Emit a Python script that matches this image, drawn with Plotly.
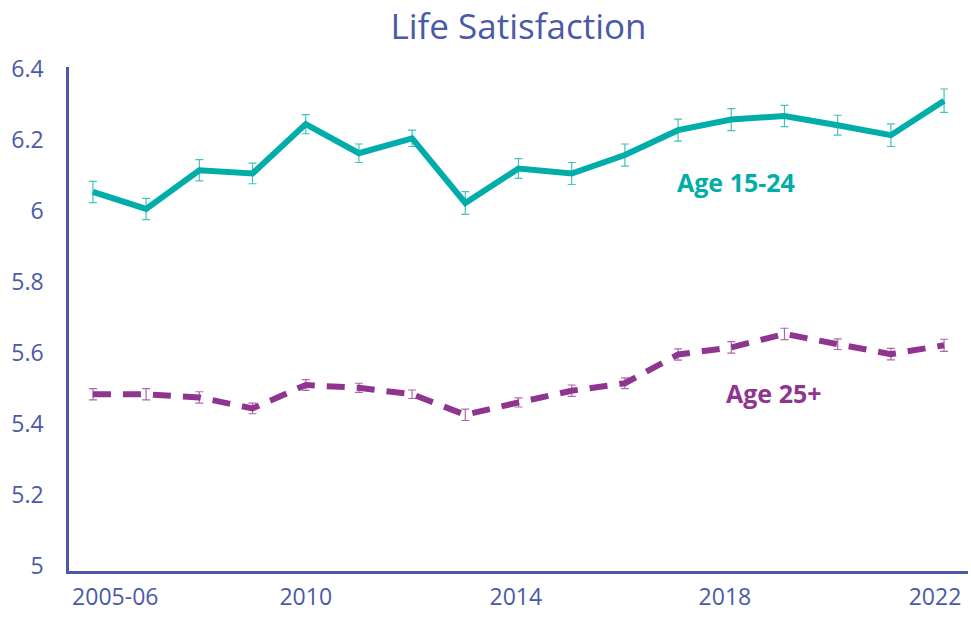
import plotly.graph_objects as go

years = list(range(2006, 2023))

# Age 15-24 (mean life satisfaction and half-width of the error bar)
young = [6.054, 6.006, 6.115, 6.106, 6.245, 6.163, 6.205, 6.023, 6.120,
         6.106, 6.158, 6.228, 6.258, 6.268, 6.242, 6.214, 6.311]
young_err = [0.030, 0.030, 0.030, 0.029, 0.027, 0.026, 0.023, 0.032, 0.028,
             0.031, 0.031, 0.031, 0.031, 0.030, 0.028, 0.032, 0.033]

# Age 25+
older = [5.484, 5.484, 5.475, 5.444, 5.510, 5.502, 5.484, 5.426, 5.461,
         5.494, 5.515, 5.596, 5.616, 5.654, 5.625, 5.597, 5.622]
older_err = [0.016, 0.016, 0.016, 0.015, 0.015, 0.013, 0.012, 0.016, 0.013,
             0.016, 0.015, 0.016, 0.016, 0.016, 0.015, 0.016, 0.017]

x_tick_text = ["2005-06", "2010", "2014", "2018", "2022"]
x_tick_pos = [2006.42, 2010, 2013.95, 2017.88, 2021.83]
y_ticks = [5, 5.2, 5.4, 5.6, 5.8, 6, 6.2, 6.4]
y_tick_text = ["5", "5.2", "5.4", "5.6", "5.8", "6", "6.2", "6.4"]

TEAL = "#00ADA8"
PURPLE = "#8F3590"
BLUE = "#4A5AA8"
FONT = "Open Sans"

fig = go.Figure()

fig.add_trace(go.Scatter(
    x=years, y=young, mode="lines", name="Age 15-24",
    line=dict(color=TEAL, width=6),
    error_y=dict(type="data", array=young_err, visible=True,
                 color="rgba(0,173,168,0.75)", thickness=1.2, width=4),
))
fig.add_trace(go.Scatter(
    x=years, y=older, mode="lines", name="Age 25+",
    line=dict(color=PURPLE, width=6, dash="18px,12px"),
    error_y=dict(type="data", array=older_err, visible=True,
                 color="rgba(143,53,144,0.75)", thickness=1.2, width=4),
))

fig.add_annotation(x=2018.09, y=6.082, text="<b>Age 15-24</b>", showarrow=False,
                   font=dict(family=FONT, size=25, color=TEAL))
fig.add_annotation(x=2018.8, y=5.487, text="<b>Age 25+</b>", showarrow=False,
                   font=dict(family=FONT, size=25, color=PURPLE))

fig.update_layout(
    width=971, height=619,
    margin=dict(l=69, r=3, t=67, b=48),
    paper_bgcolor="white", plot_bgcolor="white",
    showlegend=False,
    title=dict(text="Life Satisfaction", x=0.5, xref="paper", y=0.957,
               xanchor="center", yanchor="middle",
               font=dict(family=FONT, size=35, color=BLUE)),
    font=dict(family=FONT, color=BLUE),
    xaxis=dict(range=[2005.55, 2022.45], tickvals=x_tick_pos, ticktext=x_tick_text,
               showgrid=False, zeroline=False, showline=True, linecolor=BLUE,
               linewidth=2.5, ticks="", tickfont=dict(size=23, color=BLUE),
               ticklabelstandoff=4, automargin=False),
    yaxis=dict(range=[4.986, 6.406], tickvals=y_ticks, ticktext=y_tick_text,
               showgrid=False, zeroline=False, showline=True, linecolor=BLUE,
               linewidth=2.5, ticks="", tickfont=dict(size=23, color=BLUE),
               ticklabelstandoff=18, automargin=False),
)

fig.write_html("out.html", config={"displayModeBar": False},
               post_script="document.body.style.margin = '0px';")
